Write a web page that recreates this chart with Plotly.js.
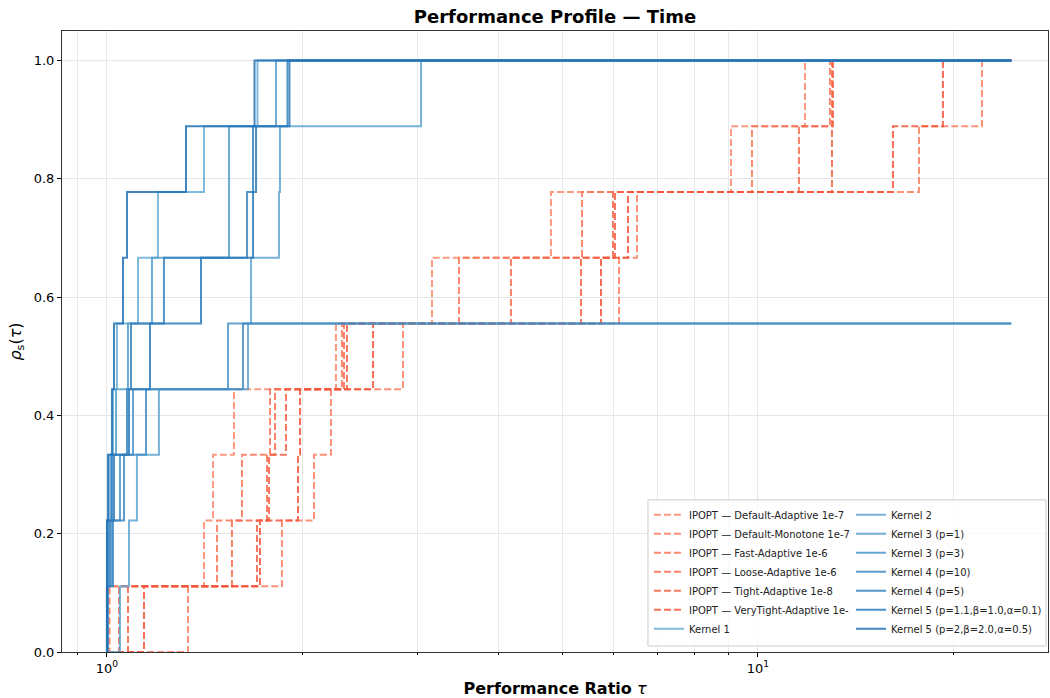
<!DOCTYPE html>
<html><head><meta charset="utf-8">
<script src="https://cdn.plot.ly/plotly-3.0.1.min.js"></script>
<style>html,body{margin:0;padding:0;background:#fff}#chart{width:1050px;height:698px}</style>
</head><body><div id="chart"></div>
<script>
// ---- data: sorted performance ratios per solver (9 problems) ----
const nProblems = 9;
const tauMax = 24.5;

const ipoptDefaultAdaptive   = [1.0035, 1.4093, 1.4551, 1.5670, 2.2477, 3.1569, 4.8084, 9.0889, 11.808];
const ipoptDefaultMonotone   = [1.3318, 1.8569, 2.0797, 2.2083, 2.8489, 6.1170, 6.5184, 17.674, 22.084];
const ipoptFastAdaptive      = [1.0089, 1.4757, 1.6120, 1.7802, 2.2959, 3.4727, 5.3667, 9.7900, 12.899];
const ipoptLooseAdaptive     = [1.0434, 1.5559, 1.7614, 1.8119, 2.3122, 4.1737, 5.9884, 11.559, 12.991];
const ipoptTightAdaptive     = [1.0771, 1.6998, 1.7739, 1.8834, 2.3369, 5.3477, 6.0309, 12.991, 13.037];
const ipoptVeryTightAdaptive = [1.1399, 1.7180, 1.9654, 1.9795, 2.5627, 5.7395, 6.3141, 16.118, 19.235];

const kernel1      = [1.0, 1.0, 1.0071, 1.0215, 1.0360, 1.1159, 1.1976, 1.4093, 1.7029];
const kernel2      = [1.0470, 1.0810, 1.1118, 1.2017, 1.6469, 1.6645, 1.8373, 1.8438, 3.0370];
const kernel3p1    = [1.0, 1.0, 1.0142, 1.0323, 1.0771, 1.1725, 1.5398, 1.5398, 1.8183];
const kernel3p3    = [1.0, 1.0178, 1.0470, 1.0963, 1.5344];
const kernel4p10   = [1.0035, 1.0215, 1.0620, 1.1479, 1.6180];
const kernel4p5    = [1.0, 1.0035, 1.0178, 1.0733, 1.0886, 1.2232, 1.6411, 1.6763, 1.8934];
const kernel5a     = [1.0, 1.0107, 1.0251, 1.0810, 1.1643, 1.3944, 1.6763, 1.6942, 1.9068];
const kernel5b     = [1.0, 1.0, 1.0035, 1.0178, 1.0251, 1.0582, 1.0733, 1.3224, 1.6852];

const ipoptNames = ['IPOPT — Default-Adaptive 1e-7','IPOPT — Default-Monotone 1e-7','IPOPT — Fast-Adaptive 1e-6',
                    'IPOPT — Loose-Adaptive 1e-6','IPOPT — Tight-Adaptive 1e-8','IPOPT — VeryTight-Adaptive 1e-'];
const ipoptData  = [ipoptDefaultAdaptive, ipoptDefaultMonotone, ipoptFastAdaptive, ipoptLooseAdaptive, ipoptTightAdaptive, ipoptVeryTightAdaptive];
const ipoptColors = ['#fc8a6a','#fa7f60','#f97457','#f76a4d','#f65f44','#f4543a'];

const kernelNames = ['Kernel 1','Kernel 2','Kernel 3 (p=1)','Kernel 3 (p=3)','Kernel 4 (p=10)','Kernel 4 (p=5)',
                     'Kernel 5 (p=1.1,β=1.0,α=0.1)','Kernel 5 (p=2,β=2.0,α=0.5)'];
const kernelData  = [kernel1, kernel2, kernel3p1, kernel3p3, kernel4p10, kernel4p5, kernel5a, kernel5b];
const kernelColors = ['#6baed6','#60a5d1','#569dcd','#4b94c8','#418bc3','#3682be','#2c7aba','#2171b5'];

function stepXY(r){
  const x=[1], y=[0];
  r.forEach((v,i)=>{x.push(v); y.push((i+1)/nProblems);});
  x.push(tauMax); y.push(r.length/nProblems);
  return {x,y};
}

const traces=[];
ipoptData.forEach((r,i)=>{
  const s=stepXY(r);
  traces.push({type:'scatter',mode:'lines',x:s.x,y:s.y,name:ipoptNames[i],legend:'legend',
    line:{shape:'hv',color:ipoptColors[i],width:2,dash:'7px,3px'},opacity:0.85});
});
kernelData.forEach((r,i)=>{
  const s=stepXY(r);
  traces.push({type:'scatter',mode:'lines',x:s.x,y:s.y,name:kernelNames[i],legend:(i===0?'legend':'legend2'),
    line:{shape:'hv',color:kernelColors[i],width:2},opacity:0.85});
});

const F='DejaVu Sans';
const legendCommon={yanchor:'bottom',y:0.014,bgcolor:'rgba(0,0,0,0)',borderwidth:0,
  font:{family:F,size:10,color:'#222'},itemwidth:30,tracegroupgap:0,traceorder:'normal'};

const layout={
  width:1050,height:698,
  margin:{l:62,r:2,t:31,b:46},
  paper_bgcolor:'#ffffff',plot_bgcolor:'#ffffff',
  font:{family:F,size:13,color:'#000'},
  hovermode:false,
  title:{text:'<b>Performance Profile — Time</b>',font:{family:F,size:18,color:'#000'},
         x:0.5,xref:'paper',xanchor:'center',y:1-17/698,yref:'container',yanchor:'middle'},
  xaxis:{type:'log',range:[-0.0691,1.4455],tickvals:[1,10],ticktext:['10<sup>0</sup>','10<sup>1</sup>'],
    ticks:'outside',ticklen:4,tickcolor:'#000',tickfont:{size:13},
    showline:true,mirror:true,linecolor:'#333',linewidth:1,
    showgrid:true,gridcolor:'#e6e6e6',gridwidth:1,zeroline:false,automargin:false,
    minor:{tickvals:[0.9,2,3,4,5,6,7,8,9,20],ticks:'outside',ticklen:2,tickcolor:'#000',showgrid:true,gridcolor:'#e9e9e9',gridwidth:1},
    title:{text:'<b>Performance Ratio</b> <i>τ</i>',font:{family:F,size:16},standoff:9}},
  yaxis:{range:[0,1.05],tick0:0,dtick:0.2,tickformat:'.1f',ticks:'outside',ticklen:4,tickcolor:'#000',tickfont:{size:13},
    showline:true,mirror:true,linecolor:'#333',linewidth:1,automargin:false,
    showgrid:true,gridcolor:'#e6e6e6',gridwidth:1,zeroline:false,
    title:{text:'<i>ρ</i><sub>s</sub>(<i>τ</i>)',font:{family:F,size:16},standoff:8}},
  legend:Object.assign({},legendCommon,{x:0.5953,xanchor:'left'}),
  legend2:Object.assign({},legendCommon,{x:0.999,xanchor:'right'}),
  shapes:[{type:'rect',xref:'paper',yref:'paper',x0:0.5943,x1:0.998,y0:0.0097,y1:0.245,
    line:{color:'#cccccc',width:1},fillcolor:'rgba(255,255,255,0.8)',layer:'above'}]
};

Plotly.newPlot('chart',traces,layout,{displayModeBar:false,staticPlot:true});
</script>
</body></html>
